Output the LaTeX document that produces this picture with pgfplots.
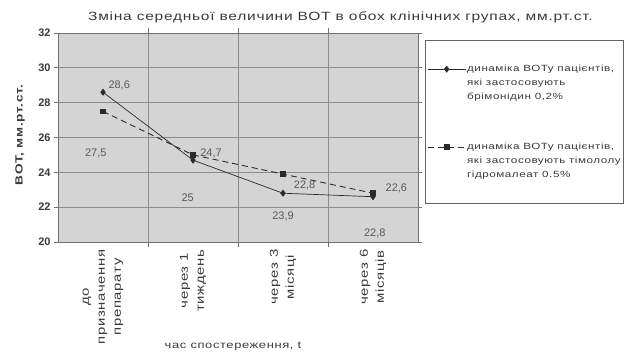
\documentclass[border=0pt]{standalone}
\usepackage{pgfplots}
\pgfplotsset{compat=1.18}
\usepackage{fontspec}
\setmainfont{Liberation Sans}
\newfontfamily\wide[FakeStretch=1.3, LetterSpace=6]{Liberation Sans}
\definecolor{plotbg}{HTML}{D4D4D4}
\definecolor{gridc}{HTML}{8C8C8C}
\definecolor{ink}{HTML}{3A3A3A}
\definecolor{linec}{HTML}{2A2A2A}

\begin{document}
\begin{tikzpicture}
\path[use as bounding box] (0bp,0bp) rectangle (636bp,352bp);
\begin{axis}[
  at={(58bp,110bp)}, anchor=south west,
  scale only axis, width=360bp, height=209bp,
  xmin=-0.5, xmax=3.5, ymin=20, ymax=32,
  ytick={20,22,...,32},
  xtick={0,1,2,3},
  xticklabels={{до\\призначення\\препарату},{через 1\\тиждень},{через 3\\місяці},{через 6\\місяців}},
  minor xtick={0.5,1.5,2.5},
  major x tick style={draw=none},
  xminorgrids, ymajorgrids,
  grid style={gridc, line width=0.9pt},
  minor grid style={gridc, line width=0.9pt},
  axis line style={gridc!80!black, line width=0.9pt},
  tick style={gridc!80!black, line width=0.9pt},
  tick align=outside, major tick length=4bp, minor tick length=5bp,
  axis background/.style={fill=plotbg},
  clip=false,
  /pgf/number format/assume math mode=true,
  yticklabel style={font=\fontsize{11}{12}\selectfont\bfseries, text=ink},
  xticklabel style={font=\wide\fontsize{11.5}{16}\selectfont, text=ink, rotate=90, anchor=east, align=center},
  legend cell align=left,
  legend style={at={(1.019,0.967)}, anchor=north west, draw=gridc!70!black,
    fill=white, line width=0.8pt, inner xsep=2pt, inner ysep=24pt, row sep=40bp,
    font=\wide\fontsize{9}{14}\selectfont, text=ink,
    nodes={inner sep=1pt, align=left}},
  legend image code/.code={\draw[mark repeat=2,mark phase=2,#1] plot coordinates {(0bp,14bp) (19bp,14bp) (38bp,14bp)};},
]
\addplot[linec, line width=0.7pt, mark=diamond*, mark size=3pt, mark options={solid, fill=linec}]
  coordinates {(0,28.6) (1,24.7) (2,22.8) (3,22.6)};
\addlegendentry{динаміка ВОТу пацієнтів,\\які застосовують\\брімонідин 0,2\%}
\addplot[linec, line width=0.9pt, dash pattern=on 6bp off 4bp, mark=square*, mark size=2.4pt, mark options={solid, fill=linec}]
  coordinates {(0,27.5) (1,25) (2,23.9) (3,22.8)};
\addlegendentry{динаміка ВОТу пацієнтів,\\які застосовують тімололу\\гідромалеат 0.5\%}

% value labels
\begin{scope}[every node/.style={font=\fontsize{11}{12}\selectfont, text=gray!70!black}]
\node at (axis cs:0.18,29.0) {28,6};
\node at (axis cs:-0.08,25.1) {27,5};
\node at (axis cs:1.2,25.1) {24,7};
\node at (axis cs:0.94,22.55) {25};
\node at (axis cs:2.24,23.25) {22,8};
\node at (axis cs:2.0,21.45) {23,9};
\node at (axis cs:3.26,23.1) {22,6};
\node at (axis cs:3.02,20.5) {22,8};
\end{scope}
\end{axis}
\node[font=\wide\fontsize{12}{13}\selectfont, text=ink, anchor=west, inner sep=0pt] at (88bp,335bp) {Зміна середньої величини ВОТ в обох клінічних групах, мм.рт.ст.};
\node[font=\wide\fontsize{10.5}{12}\selectfont\bfseries, text=ink, rotate=90] at (20bp,217bp) {ВОТ, мм.рт.ст.};
\node[font=\wide\fontsize{10}{11}\selectfont, text=ink] at (233bp,6bp) {час спостереження, t};
\end{tikzpicture}
\end{document}
